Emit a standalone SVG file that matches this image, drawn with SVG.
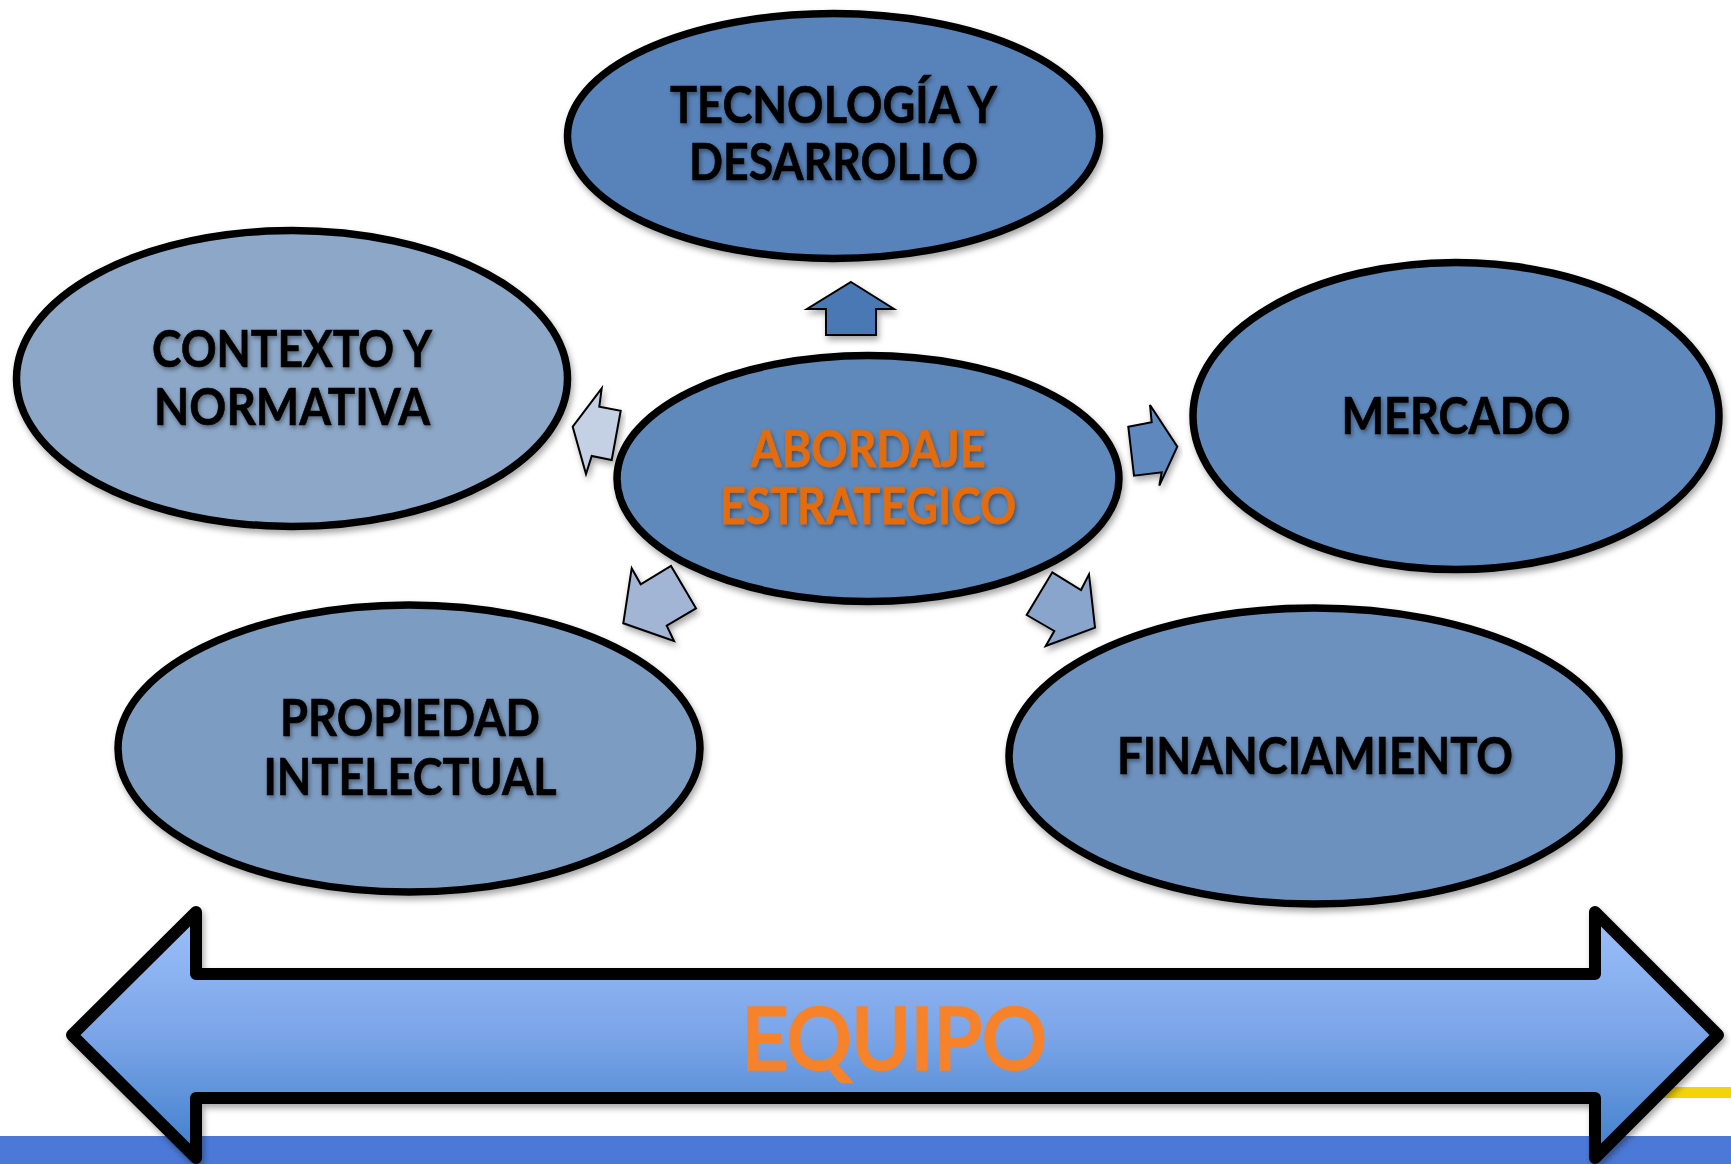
<svg xmlns="http://www.w3.org/2000/svg" width="1731" height="1164" viewBox="0 0 1731 1164">
<defs>
<linearGradient id="bigGrad" x1="0" y1="0" x2="0" y2="1">
<stop offset="0" stop-color="#9CC0FA"/>
<stop offset="0.5" stop-color="#7BA5E8"/>
<stop offset="1" stop-color="#3F7FCB"/>
</linearGradient>
<filter id="shadow" x="-10%" y="-10%" width="120%" height="130%">
<feDropShadow dx="2" dy="4" stdDeviation="3" flood-color="#000" flood-opacity="0.35"/>
</filter>
<filter id="tshadow" x="-5%" y="-20%" width="110%" height="150%">
<feDropShadow dx="1.5" dy="2.5" stdDeviation="2" flood-color="#000" flood-opacity="0.4"/>
</filter>
</defs>
<style>
.node ellipse{stroke:#000;stroke-width:7.5;}
.lbl{font-family:Lato,"Open Sans","Liberation Sans",sans-serif;font-weight:bold;font-size:51px;fill:#000;text-anchor:middle;stroke:#000;stroke-width:0.6;}
.ctr{fill:#E46C0A;stroke:#E46C0A;}
.small{stroke:#000;stroke-width:2;stroke-linejoin:miter;}
</style>
<rect width="1731" height="1164" fill="#fff"/>
<!-- bottom decorative bars -->
<rect x="0" y="1136" width="1731" height="28" fill="#4C79D8"/>
<rect x="1660" y="1087" width="71" height="11" fill="#F5D30A"/>

<g id="node-tecnologia" class="node">
<ellipse cx="833.5" cy="136" rx="266" ry="122.5" fill="#5883BA" filter="url(#shadow)"/>
<text class="lbl" x="833.5" y="122.5" textLength="327" lengthAdjust="spacingAndGlyphs" filter="url(#tshadow)">TECNOLOGÍA Y</text>
<text class="lbl" x="833.5" y="180" textLength="289" lengthAdjust="spacingAndGlyphs" filter="url(#tshadow)">DESARROLLO</text>
</g>
<g id="node-contexto" class="node">
<ellipse cx="292" cy="378.5" rx="275.5" ry="148" fill="#8CA7C7" filter="url(#shadow)"/>
<text class="lbl" x="292" y="366.5" textLength="280" lengthAdjust="spacingAndGlyphs" filter="url(#tshadow)">CONTEXTO Y</text>
<text class="lbl" x="292" y="425" textLength="276" lengthAdjust="spacingAndGlyphs" filter="url(#tshadow)">NORMATIVA</text>
</g>
<g id="node-abordaje" class="node">
<ellipse cx="868" cy="478.5" rx="251" ry="123" fill="#5F89BB" filter="url(#shadow)"/>
<text class="lbl ctr" x="868" y="467" textLength="235" lengthAdjust="spacingAndGlyphs" filter="url(#tshadow)">ABORDAJE</text>
<text class="lbl ctr" x="868" y="524" textLength="296" lengthAdjust="spacingAndGlyphs" filter="url(#tshadow)">ESTRATEGICO</text>
</g>
<g id="node-mercado" class="node">
<ellipse cx="1456" cy="416" rx="263" ry="153.5" fill="#5F89BC" filter="url(#shadow)"/>
<text class="lbl" x="1456" y="434" textLength="229" lengthAdjust="spacingAndGlyphs" filter="url(#tshadow)">MERCADO</text>
</g>
<g id="node-propiedad" class="node">
<ellipse cx="409" cy="748.5" rx="291" ry="143.5" fill="#7D9CC2" filter="url(#shadow)"/>
<text class="lbl" x="410" y="736" textLength="260" lengthAdjust="spacingAndGlyphs" filter="url(#tshadow)">PROPIEDAD</text>
<text class="lbl" x="410" y="795" textLength="293" lengthAdjust="spacingAndGlyphs" filter="url(#tshadow)">INTELECTUAL</text>
</g>
<g id="node-financiamiento" class="node">
<ellipse cx="1314" cy="756" rx="305" ry="148" fill="#6D91BE" filter="url(#shadow)"/>
<text class="lbl" x="1315" y="774" textLength="396" lengthAdjust="spacingAndGlyphs" filter="url(#tshadow)">FINANCIAMIENTO</text>
</g>

<g id="connectors">
<polygon class="small" fill="#4A78B4" filter="url(#shadow)" points="851,282 894,309 876,309 876,335 826,335 826,309 807,309"/>
<polygon class="small" fill="#C4D0E3" filter="url(#shadow)" points="601.7,388.3 599.3,406.7 620.7,410.7 611.7,460 591.7,456 586,474 572.7,426.7"/>
<polygon class="small" fill="#5E88BE" filter="url(#shadow)" points="1128.3,426.7 1151.7,422.3 1150,405 1177.3,446.7 1159.3,485.7 1161.7,472.3 1134,475.7"/>
<polygon class="small" fill="#A3B5D4" filter="url(#shadow)" points="631.7,568.3 640.7,584.3 671,566 696,608.3 666.7,625.7 674,641 623.3,623.3"/>
<polygon class="small" fill="#8AA5CC" filter="url(#shadow)" points="1052.3,572.3 1081,590 1089,574.3 1095,627.7 1045.7,646 1054.3,631 1026.7,615"/>
</g>

<g id="node-equipo">
<polygon points="72,1035 196,912 196,974 1595,974 1595,912 1718,1035 1595,1158 1595,1098 196,1098 196,1158" fill="url(#bigGrad)" stroke="#000" stroke-width="12" stroke-linejoin="round" filter="url(#shadow)"/>
<text x="894" y="1069" font-family="Lato,'Open Sans','Liberation Sans',sans-serif" font-size="85" fill="#F6822A" stroke="#F6822A" stroke-width="3.5" text-anchor="middle" textLength="305" lengthAdjust="spacingAndGlyphs">EQUIPO</text>
</g>
</svg>
